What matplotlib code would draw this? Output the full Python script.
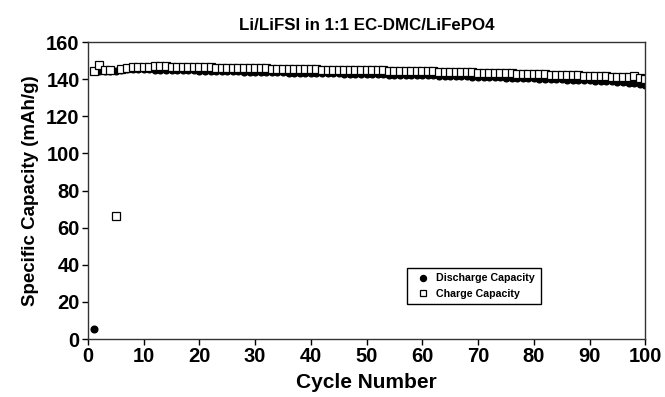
import matplotlib
matplotlib.use("Agg")
import matplotlib.pyplot as plt

plt.rcParams['font.family'] = ['Liberation Sans', 'DejaVu Sans']

cycles = list(range(1, 101))

discharge = [
    5.5, 144.5, 144.6, 144.5, 144.6, 145.0, 145.4, 145.6, 145.5, 145.5,
    145.3, 145.2, 145.1, 145.0, 145.0, 144.9, 144.8, 144.8, 144.7, 144.6,
    144.5, 144.5, 144.4, 144.3, 144.3, 144.2, 144.2, 144.1, 144.0, 144.0,
    143.9, 143.9, 143.8, 143.7, 143.7, 143.6, 143.6, 143.5, 143.5, 143.4,
    143.3, 143.3, 143.2, 143.2, 143.1, 143.0, 143.0, 142.9, 142.9, 142.8,
    142.7, 142.7, 142.6, 142.5, 142.5, 142.4, 142.3, 142.3, 142.2, 142.1,
    142.0, 142.0, 141.9, 141.8, 141.7, 141.7, 141.6, 141.5, 141.4, 141.3,
    141.2, 141.2, 141.1, 141.0, 140.9, 140.8, 140.7, 140.6, 140.5, 140.4,
    140.3, 140.2, 140.1, 140.0, 139.9, 139.8, 139.7, 139.6, 139.5, 139.4,
    139.3, 139.1, 139.0, 138.8, 138.6, 138.4, 138.2, 138.0, 137.6, 137.0,
]

charge = [
    144.5, 147.5, 145.0, 145.0, 66.5, 145.5, 146.0, 146.4, 146.5, 146.7,
    146.8, 147.0, 147.0, 146.9, 146.8, 146.8, 146.7, 146.6, 146.6, 146.5,
    146.4, 146.4, 146.3, 146.2, 146.2, 146.1, 146.0, 146.0, 145.9, 145.9,
    145.8, 145.8, 145.7, 145.6, 145.6, 145.5, 145.5, 145.4, 145.4, 145.3,
    145.3, 145.2, 145.2, 145.1, 145.1, 145.0, 145.0, 144.9, 144.9, 144.8,
    144.8, 144.7, 144.7, 144.6, 144.6, 144.5, 144.5, 144.4, 144.4, 144.3,
    144.2, 144.2, 144.1, 144.0, 144.0, 143.9, 143.8, 143.7, 143.7, 143.6,
    143.5, 143.4, 143.4, 143.3, 143.2, 143.1, 143.0, 142.9, 142.9, 142.8,
    142.7, 142.6, 142.5, 142.4, 142.3, 142.2, 142.1, 142.0, 141.9, 141.8,
    141.7, 141.6, 141.5, 141.4, 141.3, 141.2, 141.0, 141.8, 140.6, 140.2,
]

xticks = [0, 10, 20, 30, 40, 50, 60, 70, 80, 90, 100]
yticks = [0, 20, 40, 60, 80, 100, 120, 140, 160]

fig = plt.figure(figsize=(6.65, 3.97), dpi=100)
ax = fig.add_axes([0.1323, 0.146, 0.838, 0.748])

ax.plot(cycles, discharge, linestyle='none', marker='o', markersize=4.8,
        markerfacecolor='black', markeredgecolor='black', label='Discharge Capacity')
ax.plot(cycles, charge, linestyle='none', marker='s', markersize=5.5,
        markerfacecolor='white', markeredgecolor='black', markeredgewidth=0.9,
        label='Charge Capacity')

ax.set_xlim(0, 100)
ax.set_ylim(0, 160)
ax.set_xticks(xticks)
ax.set_yticks(yticks)
ax.tick_params(direction='out', length=4, width=1, labelsize=14.5, pad=2)
for lbl in ax.get_xticklabels() + ax.get_yticklabels():
    lbl.set_fontweight('bold')
for s in ax.spines.values():
    s.set_linewidth(1)
    s.set_color('#333333')
ax.tick_params(top=False, right=False)

ax.set_xlabel('Cycle Number', fontsize=15, fontweight='bold', labelpad=5)
ax.set_ylabel('Specific Capacity (mAh/g)', fontsize=13.5, fontweight='bold', labelpad=5)
ax.set_title('Li/LiFSI in 1:1 EC-DMC/LiFePO4', fontsize=12.2, fontweight='bold', pad=9)

leg = ax.legend(loc='lower left', bbox_to_anchor=(0.562, 0.1), fancybox=False,
                edgecolor='black', prop={'weight': 'bold', 'size': 7.7},
                handletextpad=0.3, borderpad=0.5, labelspacing=0.5,
                markerscale=0.9, framealpha=1)
leg.get_frame().set_linewidth(1)

fig.savefig('out.png', dpi=100)
